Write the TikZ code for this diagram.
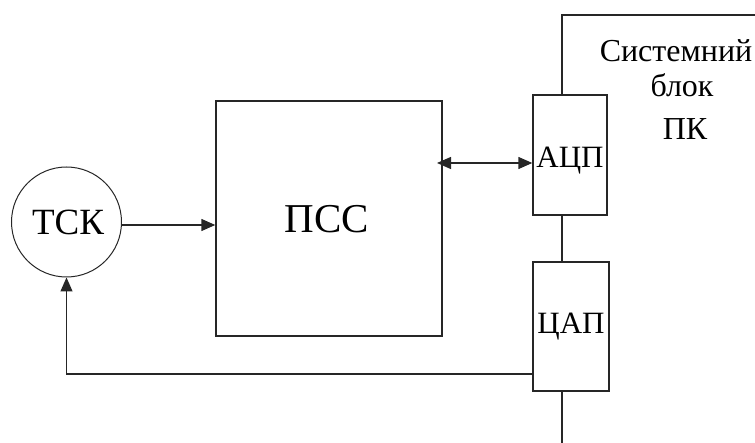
\documentclass[tikz,border=0pt]{standalone}
\usepackage{fontspec}
\setmainfont{Liberation Serif}
\usetikzlibrary{arrows.meta}
\begin{document}
\begin{tikzpicture}[x=1pt,y=-1pt,
  line/.style={line width=1.4pt,draw=black!85},
  arr/.style={line,-{Triangle[length=14pt,width=12pt]}},
  darr/.style={line,{Triangle[length=14pt,width=12pt]}-{Triangle[length=14pt,width=12pt]}},
  blk/.style={draw=black!85,line width=1.4pt,rectangle,inner sep=0pt},
  lbl/.style={inner sep=0pt,anchor=base}]
\useasboundingbox (0,0) rectangle (755,443);
% blocks
\node[blk,minimum width=226pt,minimum height=235pt] (pss) at (329,218.5) {};
\node[lbl,font=\fontsize{41}{48}\selectfont] (psst) at (327,233) {ПСС};
\node[draw=black!85,line width=1pt,circle,minimum size=110pt,inner sep=0pt] (tsk) at (66.5,222) {};
\node[lbl,font=\fontsize{37}{44}\selectfont] (tskt) at (68,235) {ТСК};
\node[blk,minimum width=74pt,minimum height=120pt] (adc) at (570,155) {};
\node[lbl,font=\fontsize{31}{36}\selectfont] (adct) at (570,168) {АЦП};
\node[blk,minimum width=76pt,minimum height=129pt] (dac) at (571,326.5) {};
\node[lbl,font=\fontsize{31}{36}\selectfont] (dact) at (571,334) {ЦАП};
% system unit label
\node[lbl,font=\fontsize{32}{38}\selectfont] (s1) at (676,62) {Системний};
\node[lbl,font=\fontsize{32}{38}\selectfont] (s2) at (682,97) {блок};
\node[lbl,font=\fontsize{32}{38}\selectfont] (s3) at (685,140) {ПК};
% system unit border
\coordinate (sysTop) at (562,15);
\coordinate (sysRight) at (756,15);
\coordinate (sysBot) at (562,444);
\coordinate (fb) at (533,374);
\coordinate (dl) at (437,163);
\draw[line] (sysRight) -- (sysTop) -- (sysTop |- adc.north);
\draw[line] (sysTop |- adc.south) -- (sysTop |- dac.north);
\draw[line] (sysTop |- dac.south) -- (sysBot);
% connectors
\draw[arr] (tsk.east |- 0,225) -- (pss.west |- 0,225);
\draw[darr] (dl) -- (adc.west |- dl);
\draw[arr] (fb) -| (tsk.south);
\end{tikzpicture}
\end{document}
